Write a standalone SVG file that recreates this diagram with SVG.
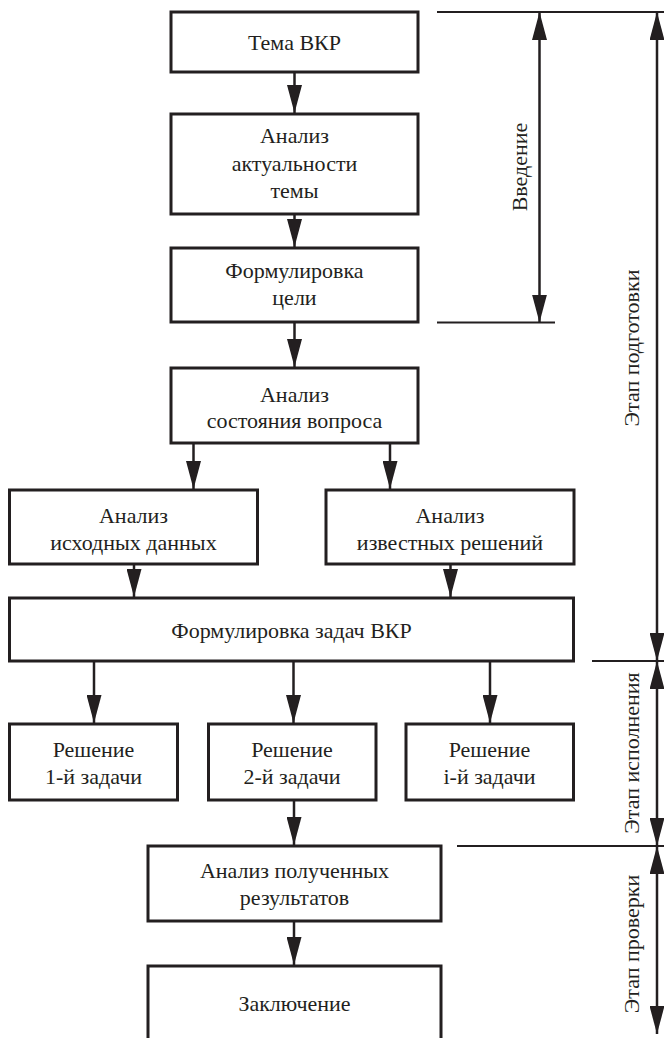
<svg xmlns="http://www.w3.org/2000/svg" width="664" height="1038" viewBox="0 0 664 1038">
<style>
.box{fill:#fff;stroke:#231f20;stroke-width:3}
.c{stroke:#231f20;stroke-width:2.5;fill:none}
.a{marker-end:url(#ah)}
.d{marker-start:url(#ah);marker-end:url(#ah)}
.h{stroke:#231f20;stroke-width:2.2;fill:none}
</style>
<defs>
<marker id="ah" viewBox="0 0 28 15" markerWidth="28" markerHeight="15" refX="28" refY="7.5" orient="auto-start-reverse" markerUnits="userSpaceOnUse">
<path d="M0,0 L28,7.5 L0,15 z" fill="#231f20"/>
</marker>
</defs>
<rect width="664" height="1038" fill="#fff"/>
<g id="connectors">
<line class="c a" x1="294.5" y1="72" x2="294.5" y2="113"/>
<line class="c a" x1="294.5" y1="214" x2="294.5" y2="247"/>
<line class="c a" x1="294.5" y1="322" x2="294.5" y2="367"/>
<line class="c a" x1="193.5" y1="443" x2="193.5" y2="489"/>
<line class="c a" x1="390" y1="443" x2="390" y2="489"/>
<line class="c a" x1="134" y1="564" x2="134" y2="597"/>
<line class="c a" x1="450.5" y1="564" x2="450.5" y2="597"/>
<line class="c a" x1="94" y1="661" x2="94" y2="723"/>
<line class="c a" x1="293.5" y1="661" x2="293.5" y2="723"/>
<line class="c a" x1="490" y1="661" x2="490" y2="723"/>
<line class="c a" x1="294" y1="800" x2="294" y2="845"/>
<line class="c a" x1="294" y1="921" x2="294" y2="965"/>
<line class="h" x1="437" y1="12" x2="664" y2="12"/>
<line class="h" x1="437" y1="322.5" x2="555" y2="322.5"/>
<line class="h" x1="592" y1="661" x2="664" y2="661"/>
<line class="h" x1="457" y1="846" x2="664" y2="846"/>
<line class="c d" x1="539.5" y1="12" x2="539.5" y2="322.5"/>
<line class="c d" x1="657" y1="12" x2="657" y2="661"/>
<line class="c d" x1="657" y1="661" x2="657" y2="846"/>
<line class="c d" x1="657" y1="846" x2="657" y2="1034"/>
</g>
<g font-family="Liberation Serif, serif" font-size="22" fill="#231f20" text-anchor="middle">
<g id="label-vvedenie"><text transform="translate(527,167) rotate(-90)">Введение</text></g>
<g id="label-podgotovka"><text transform="translate(639,348) rotate(-90)">Этап подготовки</text></g>
<g id="label-ispolnenie"><text transform="translate(639,753) rotate(-90)">Этап исполнения</text></g>
<g id="label-proverka"><text transform="translate(639,944) rotate(-90)">Этап проверки</text></g>
<g id="n-tema"><rect class="box" x="171" y="12" width="247" height="60"/><text x="294.5" y="50">Тема ВКР</text></g>
<g id="n-aktual"><rect class="box" x="171" y="114" width="247" height="100"/><text x="294.5" y="143">Анализ</text><text x="294.5" y="170.5">актуальности</text><text x="294.5" y="198">темы</text></g>
<g id="n-cel"><rect class="box" x="171" y="248" width="247" height="74"/><text x="294.5" y="278">Формулировка</text><text x="294.5" y="305">цели</text></g>
<g id="n-sostoyanie"><rect class="box" x="171" y="368" width="247" height="75"/><text x="294.5" y="401.5">Анализ</text><text x="294.5" y="428">состояния вопроса</text></g>
<g id="n-iskhodnye"><rect class="box" x="9.5" y="490" width="248" height="74"/><text x="133.5" y="523">Анализ</text><text x="133.5" y="550">исходных данных</text></g>
<g id="n-izvestnye"><rect class="box" x="326" y="490" width="248" height="74"/><text x="450" y="523">Анализ</text><text x="450" y="550">известных решений</text></g>
<g id="n-zadachi"><rect class="box" x="9.5" y="598" width="564" height="63"/><text x="291.5" y="638">Формулировка задач ВКР</text></g>
<g id="n-reshenie1"><rect class="box" x="9.5" y="724" width="168" height="76"/><text x="93.5" y="757">Решение</text><text x="93.5" y="783.5">1-й задачи</text></g>
<g id="n-reshenie2"><rect class="box" x="208.5" y="724" width="167.5" height="76"/><text x="292" y="757">Решение</text><text x="292" y="783.5">2-й задачи</text></g>
<g id="n-reshenie-i"><rect class="box" x="406" y="724" width="167.5" height="76"/><text x="489.5" y="757">Решение</text><text x="489.5" y="783.5">і-й задачи</text></g>
<g id="n-analiz-rez"><rect class="box" x="148" y="846" width="293" height="75"/><text x="294.5" y="878">Анализ полученных</text><text x="294.5" y="905">результатов</text></g>
<g id="n-zaklyuchenie"><rect class="box" x="148" y="966" width="293" height="90"/><text x="294.5" y="1011">Заключение</text></g>
</g>
</svg>
